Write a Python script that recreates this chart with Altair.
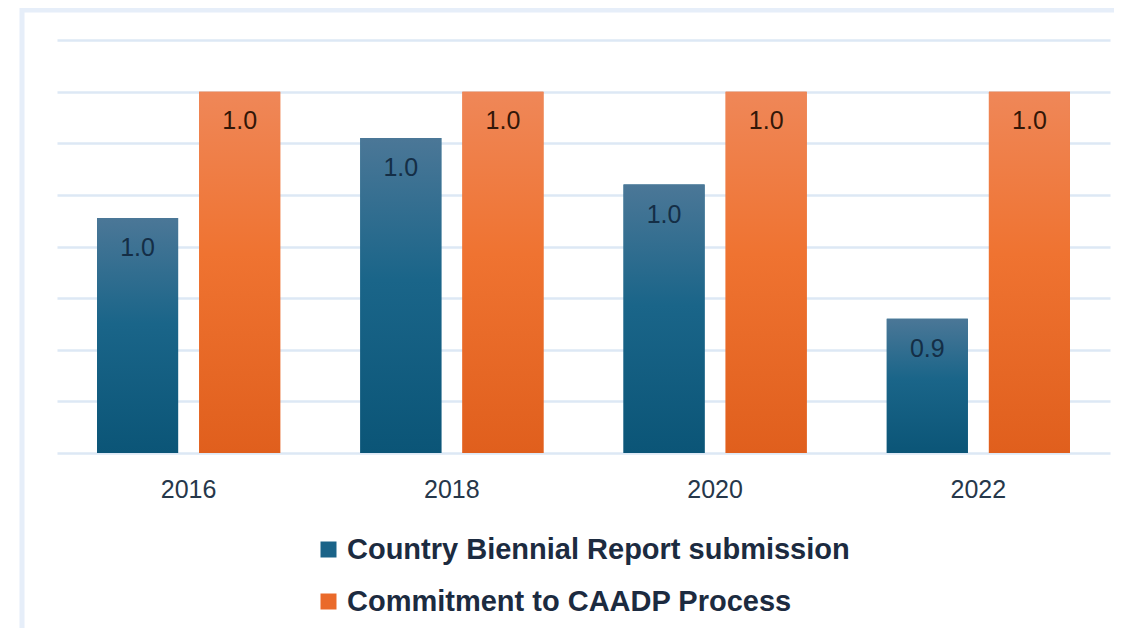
import altair as alt
import pandas as pd

years = ["2016", "2018", "2020", "2022"]
series_names = ["Country Biennial Report submission", "Commitment to CAADP Process"]
biennial_report = [0.951, 0.982, 0.964, 0.912]
caadp_commitment = [1.0, 1.0, 1.0, 1.0]
grid_values = [0.86, 0.88, 0.90, 0.92, 0.94, 0.96, 0.98, 1.00, 1.02]
axis_floor = 0.86

rows = []
for y, v in zip(years, biennial_report):
    rows.append({"year": y, "series": series_names[0], "value": v})
for y, v in zip(years, caadp_commitment):
    rows.append({"year": y, "series": series_names[1], "value": v})
df = pd.DataFrame(rows)

FONT = "Liberation Sans"
BLUE = "#1a6388"
ORANGE = "#ea6a2a"

blue_grad = alt.Gradient(
    gradient="linear", x1=0, x2=0, y1=0, y2=1,
    stops=[alt.GradientStop(color="#4b7797", offset=0),
           alt.GradientStop(color="#1a6589", offset=0.45),
           alt.GradientStop(color="#0b5577", offset=1)],
)
orange_grad = alt.Gradient(
    gradient="linear", x1=0, x2=0, y1=0, y2=1,
    stops=[alt.GradientStop(color="#ef8758", offset=0),
           alt.GradientStop(color="#ef7331", offset=0.45),
           alt.GradientStop(color="#e05f1d", offset=1)],
)

x_enc = alt.X("year:N", sort=years,
              scale=alt.Scale(paddingInner=0, paddingOuter=0),
              axis=alt.Axis(title=None, labelAngle=0, ticks=False, domain=False,
                            labelFontSize=25, labelFont=FONT, labelColor="#26374a",
                            labelPadding=24, grid=False))
xo_enc = alt.XOffset("series:N", sort=series_names,
                     scale=alt.Scale(paddingInner=0.206, paddingOuter=0.392))
y_enc = alt.Y("value:Q",
              scale=alt.Scale(domain=[0.86, 1.02], zero=False, nice=False),
              axis=alt.Axis(title=None, labels=False, ticks=False, domain=False,
                            values=grid_values, grid=True, gridColor="#dde8f5",
                            gridWidth=2.5))
y2_enc = alt.Y2(datum=axis_floor)

base = alt.Chart(df)

legend_bars = base.mark_bar().encode(
    x=x_enc, xOffset=xo_enc, y=y_enc, y2=y2_enc,
    color=alt.Color("series:N",
                    scale=alt.Scale(domain=series_names, range=[BLUE, ORANGE]),
                    legend=alt.Legend(title=None, orient="none", legendX=257, legendY=495,
                                      direction="vertical", symbolType="square",
                                      symbolSize=256, symbolStrokeWidth=0,
                                      labelFontSize=29, labelFont=FONT,
                                      labelFontWeight="bold", labelColor="#1c2b40",
                                      labelOffset=4, rowPadding=22,
                                      labelLimit=900)),
)

blue_bars = base.transform_filter(alt.datum.series == series_names[0]).mark_bar(
    fill=blue_grad).encode(x=x_enc, xOffset=xo_enc, y=y_enc, y2=y2_enc)
orange_bars = base.transform_filter(alt.datum.series == series_names[1]).mark_bar(
    fill=orange_grad).encode(x=x_enc, xOffset=xo_enc, y=y_enc, y2=y2_enc)

blue_text = base.transform_filter(alt.datum.series == series_names[0]).mark_text(
    baseline="middle", dy=30, fontSize=25, font=FONT, color="#142e46").encode(
    x=x_enc, xOffset=xo_enc, y=y_enc, text=alt.Text("value:Q", format=".1f"))
orange_text = base.transform_filter(alt.datum.series == series_names[1]).mark_text(
    baseline="middle", dy=29, fontSize=25, font=FONT, color="#331708").encode(
    x=x_enc, xOffset=xo_enc, y=y_enc, text=alt.Text("value:Q", format=".1f"))

frame = alt.Chart(alt.Data(values=[{"k": 1}])).mark_rect(
    fill=None, stroke="#e6eef9", strokeWidth=5, clip=False).encode(
    x=alt.value(-35), x2=alt.value(1200), y=alt.value(-30), y2=alt.value(800))

chart = alt.layer(frame, legend_bars, blue_bars, orange_bars, blue_text, orange_text).properties(
    width=1053, height=413,
    background="white",
    autosize=alt.AutoSizeParams(type="none"),
    padding={"left": 49, "top": 32, "right": 4, "bottom": 175},
).configure_view(strokeWidth=0, stroke="transparent")

chart.save("out.html", embed_options={"renderer": "svg", "actions": False})
